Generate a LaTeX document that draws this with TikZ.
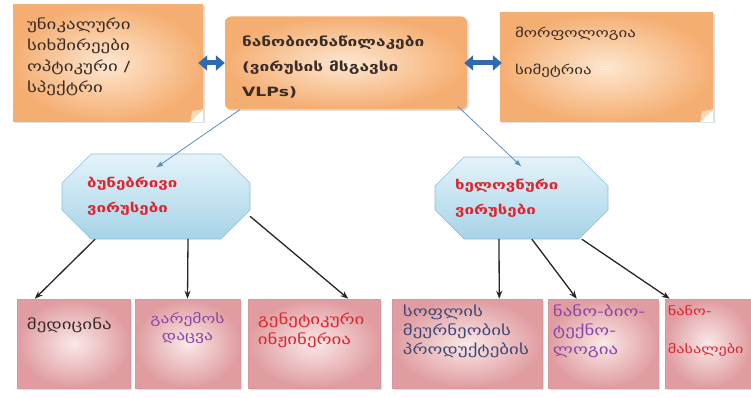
\documentclass[tikz,border=0pt]{standalone}
\usepackage{fontspec}
\newfontfamily\geo[FakeStretch=1.35]{DejaVu Sans}
\usetikzlibrary{positioning,shapes.misc,shadows,arrows.meta}
\definecolor{peach}{HTML}{F5AE72}
\definecolor{peachin}{HTML}{FDE7D0}
\definecolor{fold}{HTML}{FBD9B8}
\definecolor{skyin}{HTML}{E4F3FA}
\definecolor{skyout}{HTML}{A6D3E7}
\definecolor{skyline}{HTML}{8CC1D9}
\definecolor{rosein}{HTML}{FAE8E8}
\definecolor{roseout}{HTML}{E09CA0}
\definecolor{roseline}{HTML}{D8979A}
\definecolor{arrblue}{HTML}{2D6CB4}
\definecolor{linkblue}{HTML}{5A8DC6}
\definecolor{inkred}{HTML}{E0232D}
\definecolor{inkviolet}{HTML}{8A45A8}
\definecolor{inknavy}{HTML}{3F4878}
\definecolor{inkdark}{HTML}{3A2C26}
\begin{document}
\begin{tikzpicture}[x=1pt,y=-1pt,line join=round,line cap=round,
	font=\geo\fontsize{14}{21}\selectfont,text=inkdark,
	note/.style={inner color=peachin,outer color=peach,drop shadow={opacity=.25,shadow xshift=1.5pt,shadow yshift=-1.5pt}},
	virbox/.style={chamfered rectangle,chamfered rectangle xsep=18pt,chamfered rectangle ysep=11pt,top color=skyin,bottom color=skyout,draw=skyline,line width=.6pt,inner sep=2pt,align=left,text=inkred,font=\geo\bfseries\fontsize{12.5}{25}\selectfont},
	pinkbox/.style={inner color=rosein,outer color=roseout,draw=roseline,line width=.5pt,minimum height=89pt,drop shadow={opacity=.25,shadow xshift=1.5pt,shadow yshift=-1.5pt}},
	txt/.style={inner sep=0pt,align=left},
	small/.style={font=\geo\fontsize{14}{19}\selectfont},
	dbl/.style={draw=arrblue,line width=5pt,{Triangle[width=15pt,length=9pt]}-{Triangle[width=15pt,length=9pt]}},
	tobox/.style={draw=linkblue,line width=.8pt,-{Latex[length=7pt,width=5pt]}},
	kid/.style={draw=black!85,line width=1.3pt,-{Stealth[length=8pt,width=6pt]}}]
	\useasboundingbox (0,0) rectangle (751,398);
	\node[note,minimum width=190pt,minimum height=117pt] (uniq) at (108,63.5) {};
	\node[note,rounded corners=6pt,minimum width=242pt,minimum height=93pt] (nano) at (346,63) {};
	\node[note,minimum width=213pt,minimum height=109pt] (morph) at (606.5,67.5) {};
	\foreach \b in {uniq,morph}{
		\fill[white] ([xshift=-13pt]\b.south east)--(\b.south east)--([yshift=13pt]\b.south east)--cycle;
		\fill[fold] ([xshift=-13pt]\b.south east)--([xshift=-11pt,yshift=11pt]\b.south east)--([yshift=13pt]\b.south east)--cycle;}
	\node[virbox,text width=138pt,minimum width=188pt,minimum height=85pt] (nat) at (156,196.5) {ბუნებრივი\\ვირუსები};
	\node[virbox,text width=133pt,minimum width=173pt,minimum height=82pt] (art) at (521.5,198) {ხელოვნური\\ვირუსები};
	\foreach \n/\x/\w in {med/73.5/113,env/187.5/105,gen/314/132,agr/467/150,nbt/603/110,nmat/708/86}
		\node[pinkbox,minimum width=\w pt] (\n) at (\x,343.5) {};
	\node[txt,below right=13pt and 14pt of uniq.north west] (uniqt) {უნიკალური\\სიხშირეები\\ოპტიკური /\\სპექტრი};
	\node[txt,font=\geo\bfseries\fontsize{12.8}{25}\selectfont,below right=19pt and 17pt of nano.north west] (nanot) {ნანობიონაწილაკები\\(ვირუსის მსგავსი\\VLPs)};
	\node[txt,font=\geo\fontsize{12.5}{21}\selectfont,below right=14pt and 15pt of morph.north west] (morpht) {მორფოლოგია\\[16pt]სიმეტრია};
	\node[txt,small,below right=19pt and 10pt of med.north west] (medt) {მედიცინა};
	\node[txt,small,align=center,text=inkviolet,font=\geo\fontsize{13}{17}\selectfont,below=14pt of env.north] (envt) {გარემოს\\დაცვა};
	\node[txt,small,text=inkred,font=\geo\fontsize{14}{20}\selectfont,below right=14pt and 10pt of gen.north west] (gent) {გენეტიკური\\ინჟინერია};
	\node[txt,small,text=inknavy,below right=6pt and 11pt of agr.north west] (agrt) {სოფლის\\მეურნეობის\\პროდუქტების};
	\node[txt,small,text=inkviolet,below right=6pt and 5pt of nbt.north west] (nbtt) {ნანო-ბიო-\\ტექნო-\\ლოგია};
	\node[txt,text=inkred,font=\geo\fontsize{12}{19}\selectfont,below right=7pt and 3pt of nmat.north west] (nmatt) {ნანო-\\[19pt]მასალები};
	\draw[dbl,shorten <=-5pt] (uniq.east|-nano.west) -- (nano.west);
	\draw[dbl,shorten <=-3pt,shorten >=-2pt] (nano.east) -- (nano.east-|morph.west);
	\draw[tobox] ([xshift=15pt]nano.south west) -- ([yshift=-14pt]nat.north);
	\draw[tobox] ([xshift=-9pt,yshift=3pt]nano.south east) -- ([yshift=-10pt]art.north);
	\draw[kid] ([xshift=-61pt]nat.south) -- ([xshift=18pt]med.north west);
	\draw[kid] ([xshift=32pt]nat.south) -- (env.north);
	\draw[kid] ([yshift=-20pt]nat.east) -- ([xshift=-32pt]gen.north east);
	\draw[kid] ([xshift=-22.5pt]art.south) -- ([xshift=-43pt]agr.north east);
	\draw[kid] ([xshift=10.5pt]art.south) -- ([xshift=29pt]nbt.north west);
	\draw[kid] ([xshift=60.5pt]art.south) -- ([xshift=5pt]nmat.north west);
\end{tikzpicture}
\end{document}
